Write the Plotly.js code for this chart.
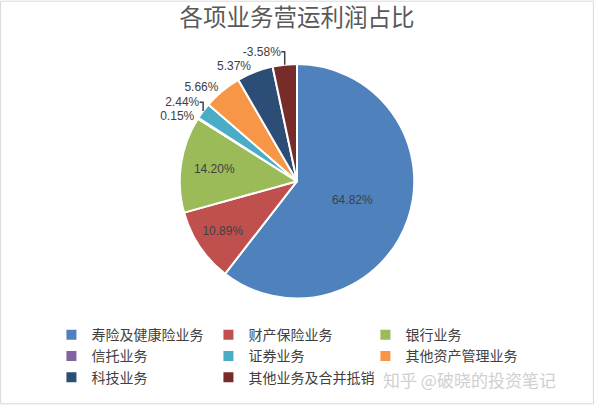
<!DOCTYPE html>
<html>
<head>
<meta charset="utf-8">
<script src="https://cdn.plot.ly/plotly-3.0.1.min.js"></script>
<style>
html,body{margin:0;padding:0;background:#fff;}
#chart{width:594px;height:405px;}
</style>
</head>
<body>
<div id="chart"></div>
<script>
var categories = ['寿险及健康险业务','财产保险业务','银行业务','信托业务','证券业务','其他资产管理业务','科技业务','其他业务及合并抵销'];
var shareValues = [64.82, 10.89, 14.20, 0.15, 2.44, 5.66, 5.37, -3.58];
var sliceColors = ['#4F81BD','#C0504D','#9BBB59','#8064A2','#4BACC6','#F79646','#2C4D75','#772C2A'];
var labelPositions = ['inside','inside','inside','outside','outside','outside','outside','outside'];

var sizes = shareValues.map(function(v){ return Math.abs(v); });
var labelTexts = shareValues.map(function(v){ return v.toFixed(2) + '%'; });

var trace = {
  type: 'pie',
  labels: categories,
  values: sizes,
  text: labelTexts,
  textinfo: 'text',
  hoverinfo: 'label+text',
  textposition: labelPositions,
  insidetextorientation: 'horizontal',
  sort: false,
  direction: 'clockwise',
  rotation: 0,
  marker: { colors: sliceColors, line: { color: '#ffffff', width: 2 } },
  textfont: { family: 'Liberation Sans, Arial, sans-serif', size: 12, color: '#404040' },
  outsidetextfont: { family: 'Liberation Sans, Arial, sans-serif', size: 12, color: '#404040' },
  domain: { x: [0.3, 0.7], y: [0.263, 0.842] }
};

var layout = {
  width: 594,
  height: 405,
  margin: { l: 0, r: 0, t: 0, b: 0 },
  paper_bgcolor: '#ffffff',
  title: {
    text: '各项业务营运利润占比',
    font: { family: 'Noto Sans CJK SC, sans-serif', size: 23.5, color: '#595959' },
    x: 0.5, xanchor: 'center', y: 0.955, yanchor: 'middle'
  },
  showlegend: true,
  legend: {
    orientation: 'h',
    x: 0.0866, xanchor: 'left',
    y: 0.212, yanchor: 'top',
    font: { family: 'Noto Sans CJK SC, sans-serif', size: 14, color: '#404040' },
    entrywidth: 112,
    entrywidthmode: 'pixels',
    traceorder: 'normal',
    itemclick: false
  },
  annotations: [{
    text: '知乎 @破晓的投资笔记',
    xref: 'paper', yref: 'paper',
    x: 0.94, y: 0.062, xanchor: 'right', yanchor: 'middle',
    showarrow: false,
    font: { family: 'Noto Sans CJK SC, sans-serif', size: 17, color: '#d0d0d0' }
  }],
  shapes: [{
    type: 'rect', xref: 'paper', yref: 'paper',
    x0: 0.001, x1: 0.999, y0: 0.003, y1: 0.997,
    line: { color: '#d9d9d9', width: 1 }
  }]
};

Plotly.newPlot('chart', [trace], layout, { displayModeBar: false, staticPlot: true });
</script>
</body>
</html>
